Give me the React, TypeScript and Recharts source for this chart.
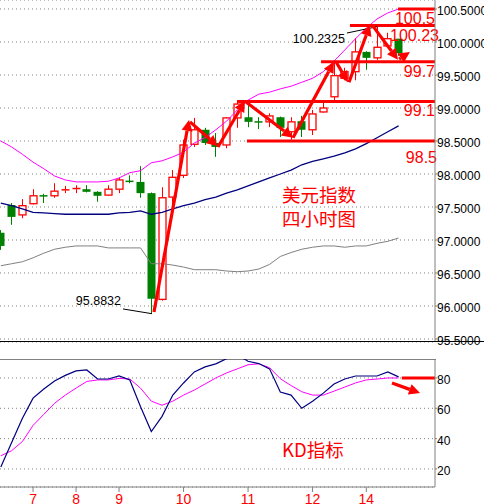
import React from 'react';
import { ComposedChart, Bar, Line, XAxis, YAxis, CartesianGrid, ReferenceLine } from 'recharts';

// US dollar index, 4h candles (oldest first)
const OPEN = [97.11, 97.53, 97.38, 97.55, 97.68, 97.67, 97.75, 97.77, 97.77, 97.73, 97.68, 97.77, 97.9, 97.88, 97.71, 96.1, 97.65, 97.98, 98.45, 98.67, 98.47, 98.44, 98.85, 98.86, 98.8, 98.79, 98.86, 98.64, 98.8, 98.67, 98.94, 99.17, 99.45, 99.55, 99.85, 99.76, 99.94, 100.05];
const HIGH = [97.15, 97.56, 97.62, 97.77, 97.7, 97.86, 97.82, 97.83, 97.83, 97.74, 97.83, 97.95, 97.98, 98.12, 97.72, 97.8, 98.06, 98.52, 98.85, 98.7, 98.62, 98.86, 99.11, 99.08, 98.86, 98.92, 98.87, 98.86, 98.88, 98.97, 99.08, 99.7, 99.61, 100.06, 99.86, 100.2325, 100.14, 100.05];
const LOW = [96.85, 97.23, 97.33, 97.54, 97.56, 97.64, 97.71, 97.71, 97.72, 97.58, 97.67, 97.71, 97.86, 97.64, 95.8832, 96.08, 97.53, 97.94, 98.41, 98.44, 98.26, 98.39, 98.7, 98.71, 98.68, 98.71, 98.56, 98.52, 98.56, 98.59, 98.93, 99.11, 99.42, 99.42, 99.58, 99.73, 99.92, 99.79];
const CLOSE = [96.91, 97.35, 97.52, 97.67, 97.67, 97.74, 97.76, 97.78, 97.73, 97.67, 97.77, 97.91, 97.89, 97.71, 96.11, 97.64, 97.95, 98.44, 98.67, 98.47, 98.41, 98.85, 99.06, 98.79, 98.79, 98.88, 98.7, 98.79, 98.67, 98.91, 99.0, 99.49, 99.55, 99.85, 99.76, 99.92, 100.05, 99.83];

// bollinger bands
const BB_UPPER = [98.5, 98.41, 98.3, 98.18, 98.08, 97.97, 97.91, 97.88, 97.88, 97.88, 97.89, 97.94, 98.02, 98.05, 98.17, 98.2, 98.26, 98.33, 98.47, 98.55, 98.67, 98.8, 98.97, 99.12, 99.21, 99.24, 99.29, 99.33, 99.39, 99.45, 99.55, 99.71, 99.88, 100.05, 100.21, 100.35, 100.44, 100.5];
const BB_MID = [97.56, 97.52, 97.47, 97.42, 97.41, 97.4, 97.39, 97.39, 97.39, 97.39, 97.39, 97.41, 97.42, 97.44, 97.39, 97.42, 97.47, 97.52, 97.56, 97.61, 97.65, 97.71, 97.76, 97.82, 97.88, 97.94, 98.0, 98.06, 98.14, 98.19, 98.23, 98.27, 98.32, 98.38, 98.46, 98.55, 98.64, 98.73];
const BB_LOWER = [96.61, 96.64, 96.67, 96.73, 96.8, 96.86, 96.89, 96.91, 96.91, 96.91, 96.88, 96.88, 96.88, 96.88, 96.64, 96.64, 96.62, 96.59, 96.55, 96.55, 96.55, 96.53, 96.52, 96.53, 96.56, 96.63, 96.75, 96.81, 96.86, 96.89, 96.91, 96.91, 96.89, 96.91, 96.91, 96.95, 96.98, 97.03];

// KD oscillator
const K_LINE = [21.3, 37.3, 53.3, 66.7, 72.7, 78, 81.7, 84.7, 85.3, 79.3, 79.3, 81.3, 78.7, 61, 44.7, 54.7, 68.7, 76.7, 84, 87.3, 89.3, 92.7, 95.3, 91, 89.5, 86, 70.7, 68.7, 60, 64.7, 70, 76, 79.3, 81.3, 81.3, 81.3, 84, 80.7];
const D_LINE = [28.7, 32, 38, 48.7, 56, 63.3, 68.7, 73.3, 77.7, 78.7, 78.7, 79.7, 79.3, 73.3, 64.7, 62, 64.7, 68.7, 72, 76, 80, 83.3, 86, 88.7, 89.3, 86.8, 79.5, 75, 70.9, 68.7, 68.7, 71.3, 74, 76.7, 78.7, 79.3, 80, 80];

const TICK_POS = [3, 7, 11, 17, 23, 29, 34];
const TICK_LABELS = ['7', '8', '9', '10', '11', '12', '14'];
const PRICE_TICKS = [95.5, 96, 96.5, 97, 97.5, 98, 98.5, 99, 99.5, 100, 100.5];
const KD_TICKS = [20, 40, 60, 80];

// hand-drawn support / resistance levels: price, start index, label
const LEVEL_PRICE = [100.5, 100.25, 99.7, 99.1, 98.5];
const LEVEL_START = [36.95, 32.48, 29.79, 21.97, 22.9];
const LEVEL_LABEL = ['100.5', '100.23', '99.7', '99.1', '98.5'];

// arrows as [index, price] -> [index, price]
const ARROWS = [
  [[14.25, 95.91], [17.51, 98.82]],
  [[17.6, 98.79], [20.2, 98.42]],
  [[20.2, 98.41], [22.72, 99.11]],
  [[22.81, 99.09], [27.18, 98.55]],
  [[27.18, 98.55], [30.99, 99.7]],
  [[31.18, 99.7], [32.3, 99.39]],
  [[32.39, 99.39], [34.34, 100.26]],
  [[34.53, 100.26], [36.95, 99.73]],
  [[37.05, 99.74], [38.06, 99.85]],
];

const XMIN = -0.0744;
const XMAX = 40.39;

const RED = '#FF0000';
const GREEN = '#008000';
const GRAY = '#808080';
const FONT = 'Liberation Sans, Arial, sans-serif';

const data = OPEN.map((o, i) => ({
  i,
  o,
  h: HIGH[i],
  l: LOW[i],
  c: CLOSE[i],
  bbU: BB_UPPER[i],
  bbM: BB_MID[i],
  bbL: BB_LOWER[i],
  k: K_LINE[i],
  d: D_LINE[i],
}));

function Candle(p: any) {
  const { x, y, width, height, payload } = p;
  const { o, h, l, c } = payload;
  const span = h - l || 1;
  const py = (v: number) => y + ((h - v) / span) * height;
  const cx = Math.round(x + width / 2) + 0.5;
  const up = c >= o;
  const top = py(Math.max(o, c));
  const bot = py(Math.min(o, c));
  if (up) {
    return (
      <g>
        <line x1={cx} x2={cx} y1={py(h)} y2={top} stroke={RED} />
        <line x1={cx} x2={cx} y1={bot} y2={py(l)} stroke={RED} />
        {bot - top < 1.5 ? (
          <line x1={cx - 4} x2={cx + 4} y1={top} y2={top} stroke={RED} strokeWidth={1.5} />
        ) : (
          <rect x={cx - 3.5} y={top} width={7} height={bot - top} fill="#fff" stroke={RED} strokeWidth={1.3} />
        )}
      </g>
    );
  }
  return (
    <g>
      <line x1={cx} x2={cx} y1={py(h)} y2={py(l)} stroke={GREEN} />
      <rect x={cx - 4} y={top} width={8} height={Math.max(bot - top, 1.5)} fill={GREEN} />
    </g>
  );
}

function Arrow(p: any) {
  const { x1, y1, x2, y2 } = p;
  const dx = x2 - x1;
  const dy = y2 - y1;
  const len = Math.hypot(dx, dy) || 1;
  const ux = dx / len;
  const uy = dy / len;
  const hl = 11;
  const hw = 5.5;
  const bx = x2 - ux * hl;
  const by = y2 - uy * hl;
  return (
    <g>
      <line x1={x1} y1={y1} x2={bx} y2={by} stroke={RED} strokeWidth={3.2} />
      <polygon
        points={`${x2},${y2} ${bx - uy * hw},${by + ux * hw} ${bx + uy * hw},${by - ux * hw}`}
        fill={RED}
      />
    </g>
  );
}

const LEVEL_TEXT_OFFSET = [
  [0, 15],
  [4, 15],
  [0, 15],
  [0, 15],
  [2, 22],
];

const levelShape = (label: string, dx: number, dy: number) => (p: any) => (
  <g>
    <line x1={p.x1} y1={p.y1} x2={p.x2} y2={p.y2} stroke={RED} strokeWidth={3} />
    <text x={Math.max(p.x1, p.x2) + dx} y={p.y1 + dy} textAnchor="end" fill={RED} fontSize={16} fontFamily={FONT}>
      {label}
    </text>
  </g>
);

const leaderShape = (label: string, dx: number, dy: number) => (p: any) => (
  <g>
    <line x1={p.x1} y1={p.y1} x2={p.x2} y2={p.y2} stroke="#000" strokeWidth={1} />
    <text x={p.x1 + dx} y={p.y1 + dy} textAnchor="end" fill="#000" fontSize={12.5} fontFamily={FONT}>
      {label}
    </text>
  </g>
);

const PriceTick = (p: any) => (
  <text x={p.x} y={p.y + 6} fill="#000" fontSize={12} fontFamily={FONT} textAnchor="start">
    {Number(p.payload.value).toFixed(4)}
  </text>
);

const KdTick = (p: any) => (
  <text x={p.x} y={p.y + 6} fill="#000" fontSize={12} fontFamily={FONT} textAnchor="start">
    {p.payload.value}
  </text>
);

export default function App() {
  return (
    <div style={{ position: 'absolute', left: 0, top: 0, width: 484, height: 504, background: '#fff', fontFamily: FONT, overflow: 'hidden' }}>
      <div style={{ position: 'absolute', left: 0, top: 0 }}>
        <ComposedChart width={484} height={350} data={data} margin={{ top: 0, right: 0, bottom: 8, left: 0 }}>
          <CartesianGrid horizontal vertical={false} stroke={GRAY} strokeDasharray="1 3" />
          <XAxis dataKey="i" type="number" domain={[XMIN, XMAX]} allowDataOverflow hide />
          <YAxis
            orientation="right"
            width={49}
            domain={[95.4545, 100.6364]}
            allowDataOverflow
            ticks={PRICE_TICKS}
            interval={0}
            tick={<PriceTick />}
            tickSize={2}
            tickMargin={0}
            axisLine={{ stroke: GRAY }}
            tickLine={{ stroke: GRAY }}
          />
          <Bar dataKey={(d: any) => [d.l, d.h]} barSize={8} shape={<Candle />} isAnimationActive={false} />
          <Line type="linear" dataKey="bbU" stroke="#FF00FF" strokeWidth={1} dot={false} activeDot={false} isAnimationActive={false} />
          <Line type="linear" dataKey="bbM" stroke="#000080" strokeWidth={1.3} dot={false} activeDot={false} isAnimationActive={false} />
          <Line type="linear" dataKey="bbL" stroke={GRAY} strokeWidth={1} dot={false} activeDot={false} isAnimationActive={false} />
          {LEVEL_PRICE.map((p, n) => (
            <ReferenceLine
              key={`lv${n}`}
              segment={[{ x: LEVEL_START[n], y: p }, { x: XMAX, y: p }]}
              ifOverflow="visible"
              shape={levelShape(LEVEL_LABEL[n], LEVEL_TEXT_OFFSET[n][0], LEVEL_TEXT_OFFSET[n][1])}
            />
          ))}
          <ReferenceLine
            segment={[{ x: 11.37, y: 95.955 }, { x: 14.07, y: 95.8832 }]}
            ifOverflow="visible"
            shape={leaderShape('95.8832', -2, -4)}
          />
          <ReferenceLine
            segment={[{ x: 32.2, y: 100.136 }, { x: 35, y: 100.2325 }]}
            ifOverflow="visible"
            shape={leaderShape('100.2325', -2, 10)}
          />
          {ARROWS.map((a, n) => (
            <ReferenceLine
              key={`ar${n}`}
              segment={[{ x: a[0][0], y: a[0][1] }, { x: a[1][0], y: a[1][1] }]}
              ifOverflow="visible"
              shape={Arrow}
            />
          ))}
        </ComposedChart>
      </div>
      <div style={{ position: 'absolute', left: 0, top: 341, width: 484, height: 1, background: '#000' }} />
      <div style={{ position: 'absolute', left: 0, top: 359, width: 436, height: 1, background: GRAY }} />
      <div style={{ position: 'absolute', left: 0, top: 359 }}>
        <ComposedChart width={484} height={145} data={data} margin={{ top: 0, right: 0, bottom: 0, left: 0 }}>
          <CartesianGrid horizontal vertical={false} stroke={GRAY} strokeDasharray="1 3" />
          <XAxis
            dataKey="i"
            type="number"
            domain={[XMIN, XMAX]}
            allowDataOverflow
            ticks={TICK_POS}
            interval={0}
            tickFormatter={(v: number) => TICK_LABELS[TICK_POS.indexOf(v)]}
            tick={{ fill: RED, fontSize: 14, fontFamily: FONT }}
            tickSize={5}
            height={17}
            axisLine={{ stroke: GRAY }}
            tickLine={{ stroke: GRAY }}
          />
          <YAxis
            orientation="right"
            width={49}
            domain={[8.1, 92.5]}
            allowDataOverflow
            ticks={KD_TICKS}
            interval={0}
            tick={<KdTick />}
            tickSize={2}
            tickMargin={0}
            axisLine={{ stroke: GRAY }}
            tickLine={{ stroke: GRAY }}
          />
          <Line type="linear" dataKey="d" stroke="#FF00FF" strokeWidth={1} dot={false} activeDot={false} isAnimationActive={false} />
          <Line type="linear" dataKey="k" stroke="#000080" strokeWidth={1.2} dot={false} activeDot={false} isAnimationActive={false} />
          <ReferenceLine
            segment={[{ x: 37.3, y: 80 }, { x: XMAX, y: 80 }]}
            ifOverflow="visible"
            stroke={RED}
            strokeWidth={3}
          />
          <ReferenceLine
            segment={[{ x: 36.39, y: 76.7 }, { x: 39.0, y: 70 }]}
            ifOverflow="visible"
            shape={Arrow}
          />
        </ComposedChart>
      </div>
      <svg width={484} height={504} style={{ position: 'absolute', left: 0, top: 0, pointerEvents: 'none' }}>
        <g fill={RED} fontFamily="Noto Sans CJK SC, sans-serif" fontSize={18.5}>
          <text x={282} y={202}>美元指数</text>
          <text x={282} y={226}>四小时图</text>
          <text x={282} y={457}>KD指标</text>
        </g>
      </svg>
    </div>
  );
}
